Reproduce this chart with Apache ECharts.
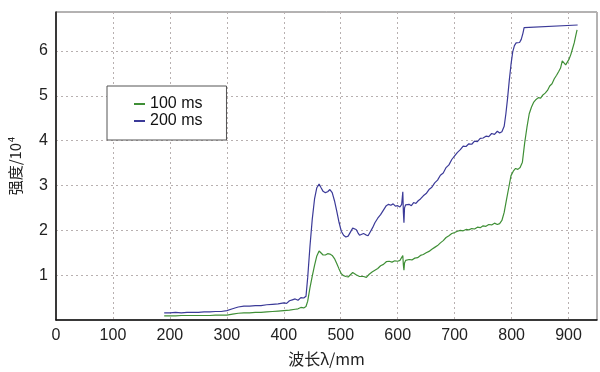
<!DOCTYPE html>
<html>
<head>
<meta charset="utf-8">
<script src="https://cdn.jsdelivr.net/npm/echarts@6/dist/echarts.min.js"></script>
<style>
  html, body { margin: 0; padding: 0; background: #fff; }
  #chart { width: 600px; height: 372px; }
</style>
</head>
<body>
<div id="chart"></div>
<script>
// 200 ms
var wl200 = [190,200,210,220,230,240,250,260,270,280,290,300,310,320,330,340,350,360,370,380,390,400,405,410,415,420,425,430,435,439,
  442,446,450,454,458,462,465,469,473,477,481,485,489,493,497,501,505,509,513,517,521,524,527,530,533,536,540,544,548,552,556,
  560,565,570,575,580,584,588,592,596,600,604,607,609,610,611,612,614,617,620,624,628,632,636,640,645,650,655,660,665,670,675,
  680,685,690,695,700,705,710,715,720,725,730,735,740,745,750,755,760,765,770,775,779,783,787,790,793,796,799,802,805,808,811,
  814,817,820,822,916];
var int200 = [0.16,0.16,0.17,0.16,0.17,0.17,0.17,0.18,0.18,0.19,0.19,0.21,0.25,0.29,0.31,0.31,0.32,0.32,0.34,0.35,0.36,0.38,0.37,0.43,0.45,0.47,0.44,0.50,0.49,0.53,
  0.95,1.65,2.25,2.70,2.95,3.03,2.96,2.87,2.84,2.86,2.91,2.84,2.66,2.43,2.18,1.98,1.89,1.85,1.87,1.96,2.05,2.07,2.02,1.95,1.89,1.89,1.93,1.90,1.88,1.97,2.06,
  2.17,2.27,2.35,2.45,2.55,2.58,2.56,2.59,2.54,2.55,2.52,2.58,2.86,2.40,2.17,2.50,2.57,2.53,2.58,2.55,2.62,2.60,2.66,2.70,2.77,2.82,2.91,2.96,3.06,3.12,3.23,3.28,
  3.40,3.46,3.58,3.66,3.74,3.80,3.88,3.87,3.93,3.92,3.99,3.98,4.05,4.06,4.10,4.09,4.16,4.14,4.21,4.17,4.20,4.32,4.60,4.95,5.35,5.70,5.98,6.12,6.18,6.22,6.19,
  6.26,6.40,6.52,6.58,6.58];
// 100 ms
var wl100 = [190,200,210,220,230,240,250,260,270,280,290,300,310,320,330,340,350,360,370,380,390,400,410,420,425,430,435,439,
  442,446,450,454,458,462,465,469,473,477,481,485,489,493,497,501,505,509,513,517,521,524,527,530,533,536,540,545,550,555,
  560,565,570,575,580,585,590,595,600,604,607,609,610,611,612,614,617,620,625,630,635,640,645,650,655,660,665,670,675,680,
  685,690,695,700,705,710,715,720,725,730,735,740,745,750,755,760,765,770,775,779,783,787,791,795,799,803,807,811,815,819,
  823,827,831,835,839,843,847,851,855,859,863,867,871,875,879,883,886,889,892,895,898,901,904,907,910,913,915];
var int100 = [0.09,0.09,0.09,0.10,0.10,0.10,0.10,0.10,0.10,0.11,0.11,0.11,0.13,0.15,0.16,0.16,0.17,0.17,0.18,0.19,0.20,0.21,0.22,0.24,0.25,0.28,0.27,0.30,
  0.42,0.72,0.98,1.22,1.43,1.54,1.50,1.45,1.45,1.48,1.47,1.44,1.37,1.26,1.14,1.03,0.99,0.97,0.96,1.01,1.06,1.05,1.01,0.98,0.97,0.99,0.97,0.95,1.02,1.07,
  1.11,1.15,1.21,1.24,1.30,1.31,1.29,1.32,1.31,1.33,1.36,1.44,1.22,1.11,1.27,1.33,1.32,1.35,1.34,1.38,1.39,1.44,1.46,1.50,1.53,1.58,1.62,1.66,1.72,1.77,
  1.84,1.88,1.93,1.95,1.98,2.00,1.99,2.02,2.01,2.04,2.03,2.07,2.06,2.10,2.09,2.13,2.12,2.16,2.13,2.15,2.22,2.40,2.68,2.95,3.22,3.32,3.38,3.36,3.40,3.52,
  3.95,4.30,4.60,4.75,4.86,4.92,4.96,4.95,5.02,5.06,5.12,5.22,5.27,5.38,5.46,5.55,5.62,5.78,5.74,5.69,5.72,5.82,5.92,6.05,6.18,6.36,6.47];

var xTicks = [0,100,200,300,400,500,600,700,800,900];
var yTicks = [1,2,3,4,5,6];

function pairs(xs, ys) {
  var out = [];
  for (var i = 0; i < xs.length; i++) out.push([xs[i], ys[i]]);
  return out;
}

var chart = echarts.init(document.getElementById('chart'));
var option = {
  backgroundColor: '#fff',
  animation: false,
  textStyle: { fontFamily: 'Liberation Sans, Arial, sans-serif' },
  grid: {
    left: 56, right: 2, top: 12, bottom: 46,
    show: true, borderColor: '#666', borderWidth: 1
  },
  legend: {
    orient: 'vertical',
    left: 107, top: 86,
    padding: [10, 24, 11, 27],
    itemGap: 1,
    itemWidth: 11, itemHeight: 2,
    icon: 'rect',
    backgroundColor: '#fff',
    borderColor: '#555', borderWidth: 1,
    textStyle: { fontSize: 16, lineHeight: 16, color: '#111' },
    data: ['100 ms', '200 ms']
  },
  xAxis: {
    type: 'value', min: 0, max: 950, interval: 100,
    name: '波长λ/mm', nameLocation: 'middle', nameGap: 31,
    nameTextStyle: { fontSize: 16, color: '#222', fontFamily: 'Noto Sans CJK SC, sans-serif' },
    axisLine: { show: true, onZero: false, lineStyle: { color: '#111', width: 1.5 } },
    axisTick: { show: false },
    axisLabel: {
      fontSize: 16, color: '#222', margin: 8,
      formatter: function (v) { return xTicks.indexOf(v) >= 0 ? String(v) : ''; }
    },
    splitLine: { show: true, lineStyle: { color: '#b8b0b0', type: [2, 3], width: 1 } }
  },
  yAxis: {
    type: 'value', min: 0, max: 6.87, interval: 1,
    name: '强度/10⁴', nameLocation: 'middle', nameGap: 33,
    nameTextStyle: { fontSize: 15, color: '#222', fontFamily: 'Noto Sans CJK SC, sans-serif' },
    axisLine: { show: true, onZero: false, lineStyle: { color: '#111', width: 1.5 } },
    axisTick: { show: false },
    axisLabel: {
      fontSize: 16, color: '#222', margin: 8,
      formatter: function (v) { return yTicks.indexOf(v) >= 0 ? String(v) : ''; }
    },
    splitLine: { show: true, lineStyle: { color: '#b8b0b0', type: [2, 3], width: 1 } }
  },
  series: [
    {
      name: '100 ms', type: 'line', data: pairs(wl100, int100),
      showSymbol: false, symbol: 'none',
      lineStyle: { color: '#3f8f36', width: 1.2 }, itemStyle: { color: '#3f8f36' }
    },
    {
      name: '200 ms', type: 'line', data: pairs(wl200, int200),
      showSymbol: false, symbol: 'none',
      lineStyle: { color: '#3b3a98', width: 1.2 }, itemStyle: { color: '#3b3a98' }
    }
  ]
};
chart.setOption(option);
</script>
</body>
</html>
